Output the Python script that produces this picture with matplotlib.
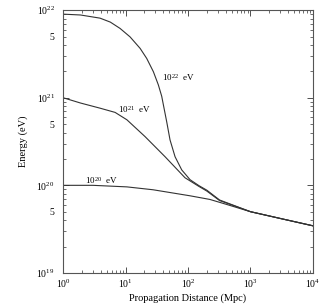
import math
import matplotlib
matplotlib.use("Agg")
import matplotlib.pyplot as plt
from matplotlib.ticker import LogLocator, FuncFormatter, NullFormatter

plt.rcParams['font.family'] = ['Liberation Serif', 'DejaVu Serif']
plt.rcParams['mathtext.default'] = 'regular'

# Propagation distance (Mpc) and energy (eV) for each injected energy
x22 = [1, 1.9, 3.9, 5.7, 8.17, 11.8, 17.1, 21.8, 27.9, 33.5, 37.9, 40.3, 45.6, 51.5, 62,
       79.3, 107.7, 150, 200, 320, 1000, 3160, 10000]
e22 = [9.0e21, 8.8e21, 8.1e21, 7.3e21, 6.18e21, 4.95e21, 3.66e21, 2.81e21, 1.98e21, 1.40e21,
       1.04e21, 8.3e20, 5.3e20, 3.3e20, 2.12e20, 1.5e20, 1.16e20, 9.9e19, 8.8e19,
       6.8e19, 5.0e19, 4.15e19, 3.45e19]

x21 = [1, 1.9, 3.9, 6.8, 10.5, 20.5, 42.9, 89.5, 150, 200, 320, 1000, 3160, 10000]
e21 = [1.0e21, 8.7e20, 7.6e20, 6.8e20, 5.6e20, 3.6e20, 2.12e20, 1.22e20, 9.7e19, 8.6e19,
       6.7e19, 5.0e19, 4.15e19, 3.45e19]

x20 = [1, 3.0, 10.5, 27.5, 107, 224, 400, 1000, 3160, 10000]
e20 = [1.0e20, 1.0e20, 9.6e19, 8.9e19, 7.6e19, 6.9e19, 6.1e19, 5.0e19, 4.15e19, 3.45e19]

label_text = [r'10$^{22}$  eV', r'10$^{21}$  eV', r'10$^{20}$  eV']
label_pos = [(38, 1.72e21), (7.6, 7.4e20), (2.25, 1.13e20)]

fig = plt.figure(figsize=(3.27, 3.07), dpi=100)
ax = fig.add_axes([0.193, 0.111, 0.764, 0.856])

for xs, es in [(x22, e22), (x21, e21), (x20, e20)]:
    ax.plot(xs, es, color='#333333', lw=0.8)

for t, (px, py) in zip(label_text, label_pos):
    ax.text(px, py, t, fontsize=6.5, ha='left', va='center', color='black')

ax.set_xscale('log')
ax.set_yscale('log')
ax.set_xlim(1, 1e4)
ax.set_ylim(1e19, 1e22)

pow_fmt = FuncFormatter(lambda v, p: r'10$^{%d}$' % round(math.log10(v)))

ax.xaxis.set_major_locator(LogLocator(base=10, numticks=10))
ax.xaxis.set_minor_locator(LogLocator(base=10, subs=range(2, 10), numticks=20))
ax.xaxis.set_minor_formatter(NullFormatter())
ax.xaxis.set_major_formatter(pow_fmt)

ax.yaxis.set_major_locator(LogLocator(base=10, numticks=10))
ax.yaxis.set_minor_locator(LogLocator(base=10, subs=range(2, 10), numticks=20))

def yminor(v, p):
    m = v / 10 ** math.floor(math.log10(v) + 1e-9)
    return '5' if abs(m - 5) < 1e-6 else ''

ax.yaxis.set_minor_formatter(FuncFormatter(yminor))
ax.yaxis.set_major_formatter(pow_fmt)

ax.tick_params(which='both', direction='in', top=True, right=True, labelsize=7, colors='#333333', labelcolor='black')
ax.tick_params(which='major', length=4, width=0.6)
ax.tick_params(which='minor', length=2, width=0.5)
ax.tick_params(axis='y', which='both', pad=6)

for s in ax.spines.values():
    s.set_linewidth(0.8)
    s.set_color('#555555')

ax.set_xlabel('Propagation Distance (Mpc)', fontsize=7.5, labelpad=2)
ax.set_ylabel('Energy (eV)', fontsize=7.5, labelpad=6)

fig.savefig('out.png', dpi=100)
